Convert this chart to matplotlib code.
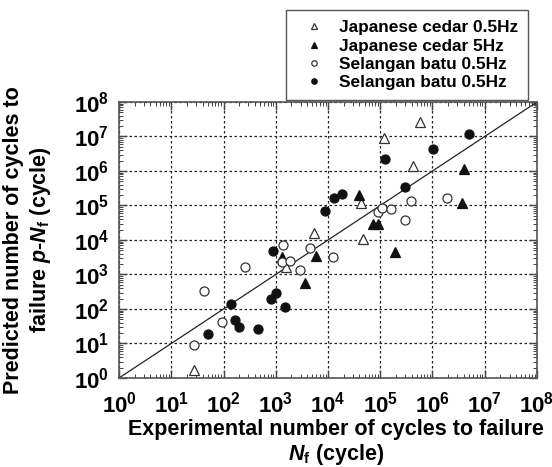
import math
import matplotlib
matplotlib.use("Agg")
import matplotlib.pyplot as plt
from matplotlib.ticker import LogLocator, FuncFormatter, NullFormatter

plt.rcParams['font.family'] = ['Liberation Sans', 'DejaVu Sans']
plt.rcParams['font.weight'] = 'bold'
plt.rcParams['mathtext.fontset'] = 'custom'
plt.rcParams['mathtext.rm'] = 'Liberation Sans:bold'
plt.rcParams['mathtext.bf'] = 'Liberation Sans:bold'
plt.rcParams['mathtext.it'] = 'Liberation Sans:bold:italic'

# Experimental (x) and predicted (y) cycles to failure
cedar05_exp = [27, 1580, 5400, 42700, 46800, 117000, 417000, 575000]
cedar05_pred = [1.7, 1700, 15800, 120000, 11000, 9.1e6, 1.38e6, 2.7e7]

cedar5_exp = [1290, 3630, 6000, 38900, 72400, 91200, 195000, 4.0e6, 3.63e6]
cedar5_pred = [3300, 575, 3550, 195000, 28200, 28200, 4570, 1.12e6, 120000]

batu_open_exp = [27, 43, 95, 263, 1380, 1320, 1860, 2950, 4570, 12600,
                 91200, 107000, 158000, 302000, 380000, 1.86e6]
batu_open_pred = [9.1, 340, 41, 1660, 7400, 2340, 2510, 1320, 6030, 3310,
                  64600, 87100, 79400, 38900, 138000, 166000]

batu_fill_exp = [50, 138, 166, 195, 457, 813, 1020, 1510, 871, 8710,
                 12900, 18600, 126000, 295000, 1.02e6, 5.0e6]
batu_fill_pred = [19, 138, 47, 30, 27, 200, 288, 115, 4790, 70800,
                  162000, 219000, 2.29e6, 347000, 4.27e6, 1.2e7]

labels = ["Japanese cedar 0.5Hz", "Japanese cedar 5Hz",
          "Selangan batu 0.5Hz", "Selangan batu 0.5Hz"]

ref_line = [1, 1e8]

fig = plt.figure(figsize=(5.52, 4.67), dpi=100)
ax = fig.add_axes([0.2156, 0.1906, 0.7572, 0.5910])

ink = '#111111'
ms = 6.5
ax.plot(ref_line, ref_line, color='#222222', lw=0.9, zorder=2)
h1, = ax.plot(cedar05_exp, cedar05_pred, linestyle='none', marker='^', ms=ms,
              mfc='white', mec='#333333', mew=0.9, zorder=3)
h2, = ax.plot(cedar5_exp, cedar5_pred, linestyle='none', marker='^', ms=ms,
              mfc=ink, mec=ink, mew=0.9, zorder=3)
h3, = ax.plot(batu_open_exp, batu_open_pred, linestyle='none', marker='o', ms=ms,
              mfc='white', mec='#333333', mew=0.9, zorder=3)
h4, = ax.plot(batu_fill_exp, batu_fill_pred, linestyle='none', marker='o', ms=ms,
              mfc=ink, mec=ink, mew=0.9, zorder=3)

ax.set_xscale('log')
ax.set_yscale('log')
ax.set_xlim(1, 1e8)
ax.set_ylim(1, 1e8)

fmt = FuncFormatter(lambda v, p: r'$\mathbf{10^{%d}}$' % round(math.log10(v)))
for axis in (ax.xaxis, ax.yaxis):
    axis.set_major_locator(LogLocator(base=10, numticks=20))
    axis.set_minor_locator(LogLocator(base=10, subs=range(2, 10), numticks=20))
    axis.set_major_formatter(fmt)
    axis.set_minor_formatter(NullFormatter())

ax.tick_params(which='both', direction='in', top=True, right=True, colors='#444444',
               labelcolor='black')
ax.tick_params(which='major', length=6, width=1, labelsize=16)
ax.tick_params(which='minor', length=3, width=0.7)
ax.tick_params(axis='x', which='major', pad=10)
ax.tick_params(axis='y', which='major', pad=7)

for s in ax.spines.values():
    s.set_color('#555555')
    s.set_linewidth(1.2)

ax.grid(True, which='major', linestyle=(0, (2, 2)), color='#222222', lw=0.9)

ax.set_xlabel('Experimental number of cycles to failure\n$\\mathit{N}_\\mathbf{f}$ (cycle)',
              fontsize=15.5, fontweight='bold', labelpad=1, linespacing=1.1)
ax.xaxis.label.set_x(0.52)
ax.set_ylabel('Predicted number of cycles to\nfailure $\\mathit{p}$-$\\mathit{N}_\\mathbf{f}$ (cycle)',
              fontsize=15.5, fontweight='bold', labelpad=15, linespacing=1.2)

leg = fig.legend([h1, h2, h3, h4], labels, loc='upper left',
                 bbox_to_anchor=(286 / 552, 1 - 10 / 467), bbox_transform=fig.transFigure,
                 borderaxespad=0, fontsize=12.4, markerscale=0.6, numpoints=1,
                 handlelength=2.0, handletextpad=0.45, labelspacing=0.18,
                 borderpad=0.6, fancybox=False, framealpha=1, edgecolor='#555555')
leg.get_frame().set_linewidth(1.0)
for t in leg.get_texts():
    t.set_fontweight('bold')

fig.savefig('out.png', dpi=100)
